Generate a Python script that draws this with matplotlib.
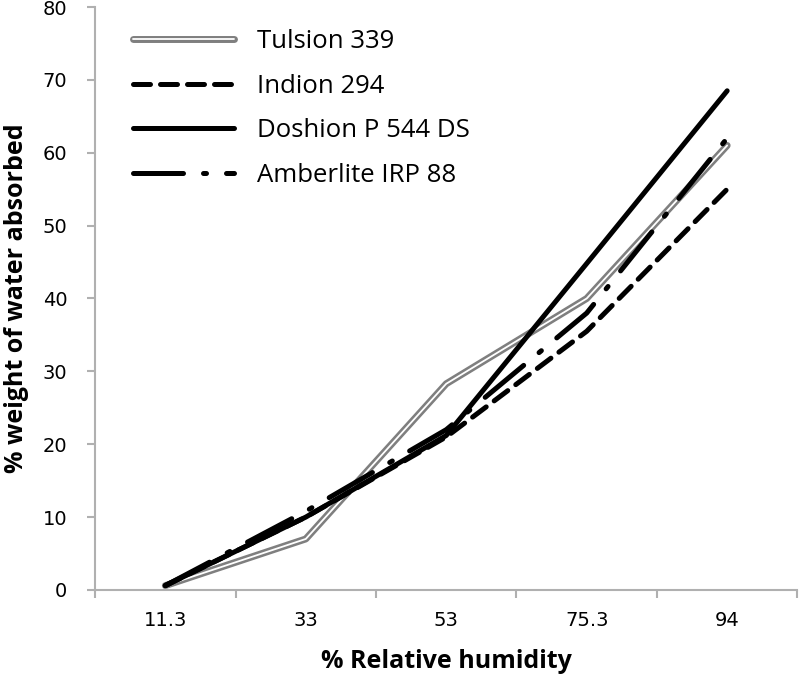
import matplotlib
matplotlib.use("Agg")
import matplotlib.pyplot as plt
import matplotlib.patheffects as pe

humidity = ['11.3', '33', '53', '75.3', '94']
tulsion = [0.6, 7.0, 28.3, 40.0, 61.0]
indion = [0.6, 10.0, 21.0, 35.5, 55.0]
doshion = [0.6, 10.0, 21.2, 44.8, 68.5]
amberlite = [0.6, 10.8, 22.0, 38.0, 62.0]

plt.rcParams['font.family'] = ['DejaVu Sans']

fig = plt.figure(figsize=(7.99, 6.8), dpi=100)
ax = fig.add_axes([0.119, 0.1324, 0.879, 0.8573])

x = list(range(len(humidity)))

ax.plot(x, tulsion, color='white', lw=1.3, solid_capstyle='round',
        path_effects=[pe.Stroke(linewidth=5, foreground='#7f7f7f', capstyle='round'), pe.Normal()],
        label='Tulsion 339')
ax.plot(x, indion, color='black', lw=3.6, linestyle=(0, (3.4, 2.0)),
        dash_capstyle='round', label='Indion 294')
ax.plot(x, doshion, color='black', lw=3.6, solid_capstyle='round',
        label='Doshion P 544 DS')
ax.plot(x, amberlite, color='black', lw=3.6, linestyle=(0, (10, 4, 0.6, 4)),
        dash_capstyle='round', label='Amberlite IRP 88')

ax.set_xlim(-0.5, len(humidity) - 0.5)
ax.set_ylim(0, 80)
ax.set_yticks(range(0, 81, 10))

# tick marks between categories, labels at centres
ax.set_xticks([i + 0.5 for i in range(-1, len(humidity))])
ax.set_xticklabels([])
ax.set_xticks(x, minor=True)
ax.set_xticklabels(humidity, minor=True)
ax.tick_params(axis='x', which='major', length=6, width=1.5, color='#b0b0b0', direction='out')
ax.tick_params(axis='x', which='minor', length=0, labelsize=14, pad=15)
ax.tick_params(axis='y', length=6, width=1.5, color='#b0b0b0', labelsize=14, pad=14)

for s in ['top', 'right']:
    ax.spines[s].set_visible(False)
for s in ['left', 'bottom']:
    ax.spines[s].set_color('#b0b0b0')
    ax.spines[s].set_linewidth(1.5)

ax.set_xlabel('% Relative humidity', fontsize=18, fontweight='bold',
              family='Open Sans', labelpad=14)
ax.set_ylabel('% weight of water absorbed', fontsize=18, fontweight='bold',
              family='Open Sans')
ax.yaxis.set_label_coords(-0.094, 0.5)

ax.legend(loc='upper left', bbox_to_anchor=(0.166, 0.957), bbox_transform=fig.transFigure,
          frameon=False, prop={'family': 'Open Sans', 'size': 18.5},
          handlelength=3.95, handletextpad=0.88,
          labelspacing=0.76, borderpad=0, borderaxespad=0)

fig.savefig('out.png', dpi=100)
